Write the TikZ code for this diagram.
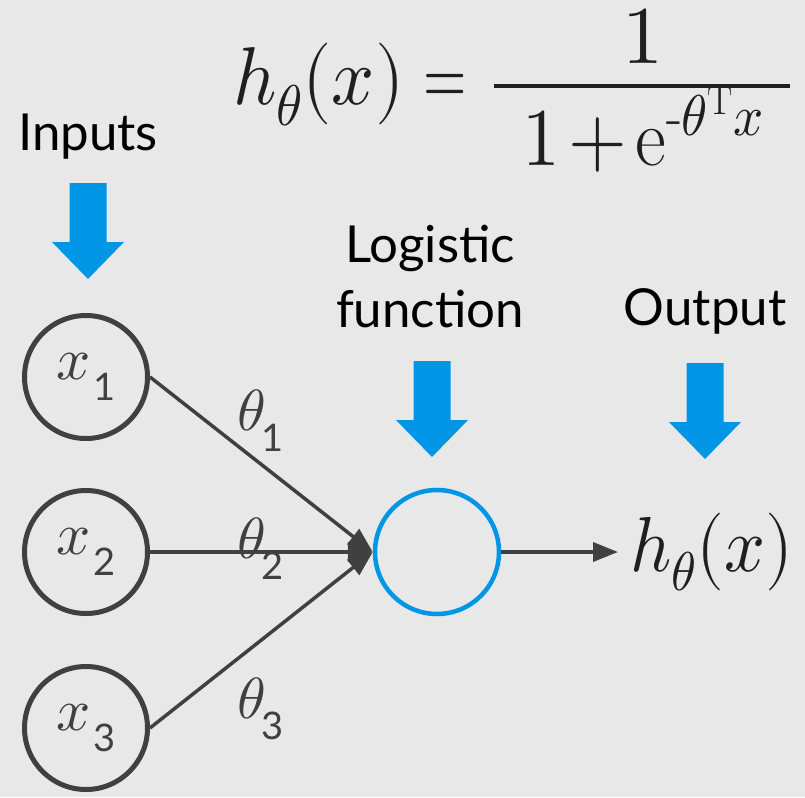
\documentclass[tikz,border=0pt]{standalone}
\usepackage{amsmath}
\usepackage{fontspec}
\usepackage{unicode-math}
\setmathfont{Latin Modern Math}
\setsansfont{Lato}
\usetikzlibrary{arrows.meta}
\definecolor{bggray}{HTML}{E8E8E8}
\definecolor{lngray}{HTML}{404040}
\definecolor{nblue}{HTML}{0096E6}
% label with a low sans subscript
\newcommand{\wlab}[4]{\fontsize{#1}{#1}\selectfont$#2$\kern#4\raisebox{-21pt}{\fontsize{38}{38}\sffamily #3}}
\tikzset{
	innode/.style={circle,draw=lngray,line width=5pt,minimum size=123pt,inner sep=0pt,text=lngray},
	signode/.style={circle,draw=nblue,line width=4.5pt,minimum size=124pt,inner sep=0pt},
	conn/.style={draw=lngray,line width=3.5pt,-{Triangle[length=25pt,width=19pt]}},
	title/.style={anchor=base,font=\sffamily\fontsize{51}{51}\selectfont},
	eqn/.style={inner sep=0pt,text=black!88,font=\fontsize{82}{82}\selectfont}
}
\begin{document}
\begin{tikzpicture}[x=1pt,y=-1pt]
	\fill[bggray] (0,0) rectangle (805,797);
	\useasboundingbox (0,0) rectangle (805,797);
	% formula
	\node[eqn,anchor=base west] (lhs) at (233,105) {\scalebox{0.92}[1]{$h_\theta(x)$}};
	\node[eqn,anchor=base east] (eq) at (467,105) {\scalebox{0.68}[1]{$=$}};
	\node[eqn,anchor=base] (num) at (643,64) {$1$};
	\node[eqn,anchor=base] (den) at (643,165) {\scalebox{0.92}[1]{$1\mskip2mu{+}\mskip2mu\mathrm{e}^{\text{-}\theta^{\mathrm{T}}x}$}};
	\draw[black!88,line width=4.5pt] (494,86) -- (790,86);
	% titles
	\node[title] (inputs) at (88,150) {Inputs};
	\node[title] (logi) at (430,262) {Logistic};
	\node[title] (func) at (430,327) {function};
	\node[title] (output) at (705,325) {Output};
	% blue arrows
	\foreach \ax/\ay in {88/183, 432/361, 705/363} {
		\fill[nblue] (\ax-18.5,\ay) -- (\ax+18.5,\ay) -- (\ax+18.5,\ay+59) -- (\ax+36,\ay+59)
			-- (\ax,\ay+96) -- (\ax-36,\ay+59) -- (\ax-18.5,\ay+59) -- cycle;
	}
	% input nodes
	\foreach \i/\y in {1/377, 2/552, 3/728} {
		\node[innode] (x\i) at (86,\y) {\wlab{60}{x}{\i}{3pt}};
	}
	% logistic unit
	\node[signode] (sig) at (437,552) {};
	\node[eqn,anchor=west,font=\fontsize{78}{78}\selectfont] (out) at (630,552) {\scalebox{0.92}[1]{$h_\theta(x)$}};
	% weights
	\foreach \i/\y in {1/421, 2/549, 3/709} {
		\node[text=lngray] (t\i) at (261,\y) {\wlab{58}{\theta}{\i}{-4pt}};
	}
	% connectors
	\foreach \i in {1,2,3} {
		\draw[conn] (x\i.east) -- (sig.west);
	}
	\draw[conn,shorten >=12pt] (sig.east) -- (out.west);
\end{tikzpicture}
\end{document}
